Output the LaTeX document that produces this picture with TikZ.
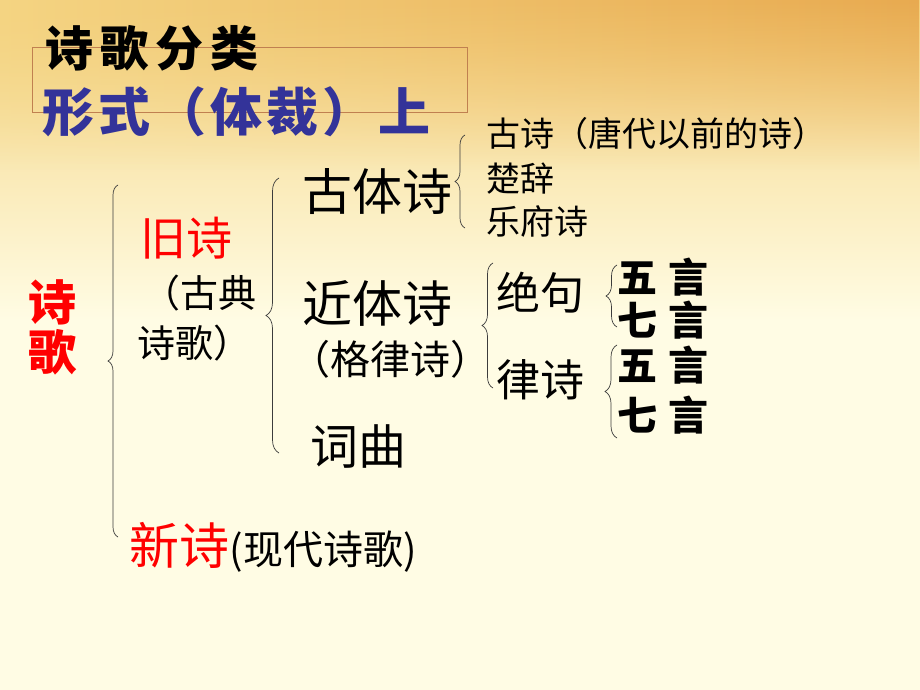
\documentclass[tikz,border=0pt]{standalone}
\usepackage{fontspec}
\setmainfont{Noto Sans CJK SC}
\usetikzlibrary{decorations.pathreplacing}
\usetikzlibrary{fadings}
\usetikzlibrary{positioning}

\definecolor{bgcream}{RGB}{255,252,228}
\definecolor{bggold}{RGB}{244,212,130}
\definecolor{bgmid}{RGB}{251,238,184}
\definecolor{bgorange}{RGB}{232,170,80}
\definecolor{titleblue}{RGB}{51,51,153}
\definecolor{boxbrown}{RGB}{192,128,80}
\definecolor{bracegray}{RGB}{60,60,60}

\tikzset{
	txt/.style={inner sep=0pt,anchor=west},
	brc/.style={decorate,decoration={brace,amplitude=#1},draw=bracegray,line width=0.7pt},
	brc/.default=10pt
}

\begin{document}
\begin{tikzpicture}[x=1pt,y=-1pt]
		\useasboundingbox (0,0) rectangle (920,690);
		\fill[bgcream] (0,0) rectangle (920,690);
		\shade[top color=bggold,middle color=bgmid,bottom color=bgcream] (0,0) rectangle (920,320);
		\shade[left color=bggold,right color=bgorange,path fading=south] (0,0) rectangle (920,170);

		\draw [boxbrown,line width=1pt] (32,48) rectangle (467,113);
		\node [txt,font=\fontsize{48}{48}\selectfont\bfseries] (title) at (45,48) {诗\hspace{7pt}歌\hspace{7pt}分\hspace{7pt}类};
		\node [txt,font=\fontsize{52}{52}\selectfont\bfseries,text=titleblue] (form) at (42,112) {形\hspace{4pt}式\hspace{4pt}（\hspace{4pt}体\hspace{4pt}裁\hspace{4pt}）\hspace{4pt}上};

		\node [inner sep=0pt,align=center,text=red,font=\fontsize{48}{50}\selectfont\bfseries] (shige) at (52,327) {诗\\歌};

		\node [txt,text=red,font=\fontsize{46}{46}\selectfont] (jiushi) at (140,238) {旧诗};
		\node [txt,align=left,font=\fontsize{38}{50}\selectfont] (gudian) at (137,318) {\hspace*{5pt}（古典\\诗歌）};
		\node [txt,text=red,font=\fontsize{50}{50}\selectfont] (xinshi) at (129,545) {新诗};
		\node [inner sep=0pt,anchor=base west,font=\fontsize{40}{40}\selectfont] (xiandai) at (xinshi.base east) {(现代诗歌)};

		\node [txt,font=\fontsize{50}{50}\selectfont] (gutishi) at (302,192) {古体诗};
		\node [txt,font=\fontsize{50}{50}\selectfont] (jintishi) at (302,303) {近体诗};
		\node [txt,font=\fontsize{40}{40}\selectfont] (gelvshi) at (290,359) {（格律诗）};
		\node [txt,font=\fontsize{48}{48}\selectfont] (cique) at (310,446) {词曲};

		\node [txt,font=\fontsize{34}{34}\selectfont] (gushi) at (486,134) {古诗（唐代以前的诗）};
		\node [txt,font=\fontsize{34}{34}\selectfont] (chuci) at (486,179) {楚辞};
		\node [txt,font=\fontsize{34}{34}\selectfont] (yuefu) at (486,221) {乐府诗};

		\node [txt,font=\fontsize{44}{44}\selectfont] (jueju) at (496,293) {绝句};
		\node [txt,font=\fontsize{44}{44}\selectfont] (lvshi) at (496,380) {律诗};

		\node [txt,font=\fontsize{40}{40}\selectfont\bfseries] (wuyanA) at (617,277) {五\hspace{11pt}言};
		\node [txt,font=\fontsize{40}{40}\selectfont\bfseries] (qiyanA) at (617,320) {七\hspace{11pt}言};
		\node [txt,font=\fontsize{40}{40}\selectfont\bfseries] (wuyanB) at (617,365) {五\hspace{11pt}言};
		\node [txt,font=\fontsize{40}{40}\selectfont\bfseries] (qiyanB) at (617,415) {七\hspace{11pt}言};

		\coordinate (shigeB) at (118,537);
		\coordinate (shigeT) at (118,185);
		\coordinate (jiushiB) at (279,453);
		\coordinate (jiushiT) at (279,178);
		\coordinate (gutiB) at (465,228);
		\coordinate (gutiT) at (465,135);
		\coordinate (jintiB) at (493,388);
		\coordinate (jintiT) at (493,263);
		\coordinate (juejuB) at (617,327);
		\coordinate (juejuT) at (617,265);
		\coordinate (lvshiB) at (617,438);
		\coordinate (lvshiT) at (617,345);

		\draw [brc] (shigeB) -- (shigeT);
		\draw [brc=13pt] (jiushiB) -- (jiushiT);
		\draw [brc] (gutiB) -- (gutiT);
		\draw [brc=11pt] (jintiB) -- (jintiT);
		\draw [brc=11pt] (juejuB) -- (juejuT);
		\draw [brc=12pt] (lvshiB) -- (lvshiT);
	\end{tikzpicture}
\end{document}
